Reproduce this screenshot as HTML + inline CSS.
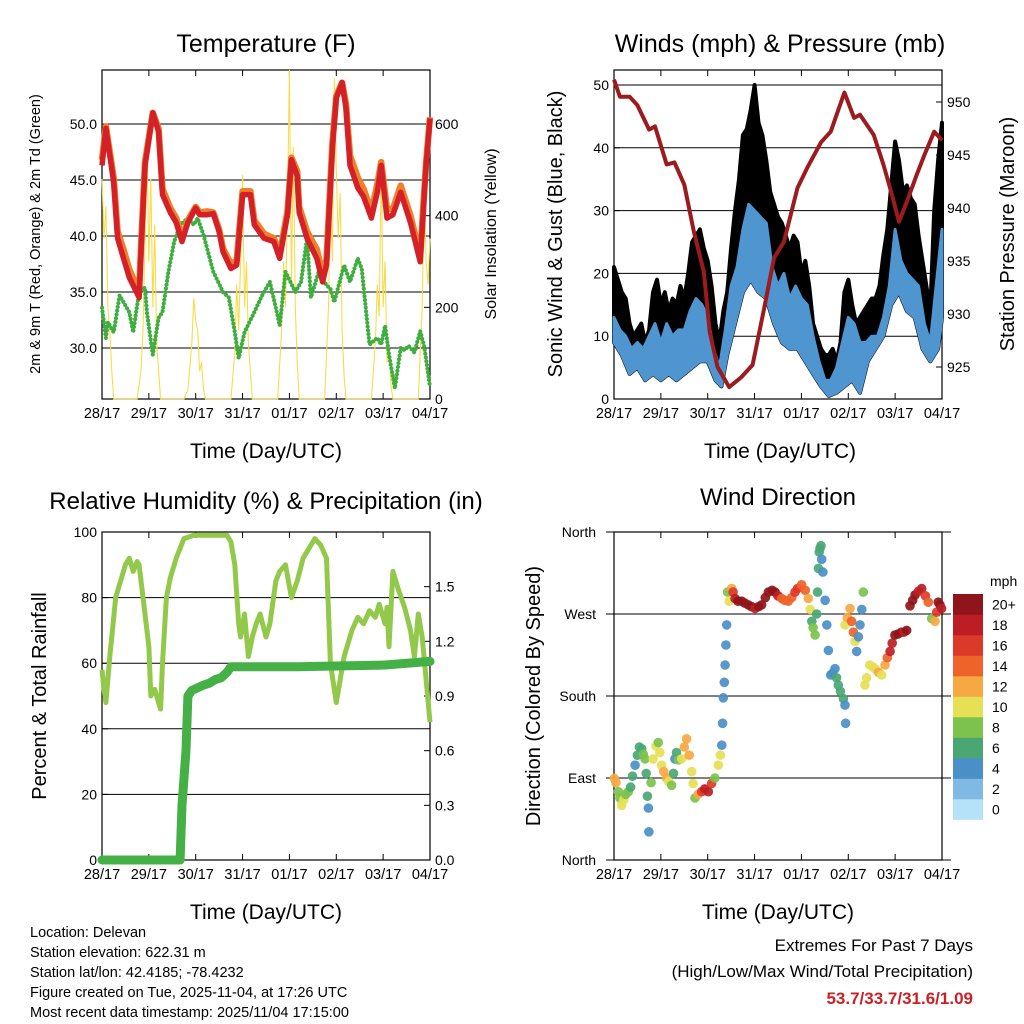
<!DOCTYPE html>
<html><head><meta charset="utf-8">
<style>
html,body{margin:0;padding:0;background:#fff;}
svg{display:block;font-family:"Liberation Sans",Arial,sans-serif;}
</style></head>
<body>
<svg id="fig" width="1024" height="1024" viewBox="0 0 1024 1024" xmlns="http://www.w3.org/2000/svg">
<rect width="1024" height="1024" fill="#fff"/>
<g id="layer"></g>
<text x="266" y="52" font-size="25" text-anchor="middle">Temperature (F)</text>
<text x="780" y="52" font-size="25" text-anchor="middle">Winds (mph) &amp; Pressure (mb)</text>
<text x="266" y="509" font-size="24" text-anchor="middle">Relative Humidity (%) &amp; Precipitation (in)</text>
<text x="778" y="505" font-size="24" text-anchor="middle">Wind Direction</text>
<text x="266" y="458" font-size="21" text-anchor="middle">Time (Day/UTC)</text>
<text x="780" y="458" font-size="21" text-anchor="middle">Time (Day/UTC)</text>
<text x="266" y="919" font-size="21" text-anchor="middle">Time (Day/UTC)</text>
<text x="778" y="919" font-size="21" text-anchor="middle">Time (Day/UTC)</text>
<text transform="translate(40,234) rotate(-90)" font-size="14.5" text-anchor="middle">2m &amp; 9m T (Red, Orange) &amp; 2m Td (Green)</text>
<text transform="translate(496,234) rotate(-90)" font-size="16" text-anchor="middle">Solar Insolation (Yellow)</text>
<text transform="translate(562,234) rotate(-90)" font-size="20" text-anchor="middle">Sonic Wind &amp; Gust (Blue, Black)</text>
<text transform="translate(1014,234) rotate(-90)" font-size="20" text-anchor="middle">Station Pressure (Maroon)</text>
<text transform="translate(46,696) rotate(-90)" font-size="20" text-anchor="middle">Percent &amp; Total Rainfall</text>
<text transform="translate(540,696) rotate(-90)" font-size="20" text-anchor="middle">Direction (Colored By Speed)</text>
<g font-size="14.5">
<text x="30" y="937">Location: Delevan</text>
<text x="30" y="957">Station elevation: 622.31 m</text>
<text x="30" y="977">Station lat/lon: 42.4185; -78.4232</text>
<text x="30" y="997">Figure created on Tue, 2025-11-04, at 17:26 UTC</text>
<text x="30" y="1017">Most recent data timestamp: 2025/11/04 17:15:00</text>
</g>
<g text-anchor="end" font-size="17">
<text x="973" y="951">Extremes For Past 7 Days</text>
<text x="973" y="977">(High/Low/Max Wind/Total Precipitation)</text>
<text x="973" y="1004" fill="#cc2027" font-weight="bold">53.7/33.7/31.6/1.09</text>
</g>
</svg>
<script>
// ---------- data ----------
const dayLabels = ["28/17","29/17","30/17","31/17","01/17","02/17","03/17","04/17"];
const tempT = [0,2,6,8,11,14,19,20,22,26,29,31,35,38,41,44,48,50,54,57,60,62,66,69,72,76,78,83,88,91,95,97,100,101,105,110,113,115,118,120,123,125,127,131,134,138,141,143,146,149,153,158,163,166,168];
const tempRed = [46.3,49.6,44.8,39.8,38.0,36.3,34.5,38.6,46.3,51.0,49.3,43.7,42.1,41.2,39.5,41.2,42.5,41.9,41.9,42.0,40.4,38.6,37.1,37.4,43.7,43.7,41.0,39.8,39.5,38.0,41.9,46.8,45.4,42.1,39.8,38.0,35.9,37.4,47.9,52.3,53.7,51.4,46.3,44.3,43.5,41.6,43.9,46.3,41.6,41.9,43.9,41.2,37.7,46.3,50.5];
const tempOrange = [46.8,49.8,45.2,40.4,38.8,37.0,35.0,39.0,46.6,51.0,49.6,44.2,42.5,41.6,39.9,41.4,42.6,42.1,42.2,42.1,40.6,38.9,37.5,37.8,44.0,44.0,41.4,40.2,39.8,38.4,42.2,47.0,45.8,42.6,40.4,38.8,36.6,37.9,48.3,52.5,53.7,51.8,47.2,45.2,44.2,42.2,44.6,46.6,42.4,42.4,44.5,41.8,38.2,46.6,50.6];
const tdT = [0,2,3,6,9,14,16,19,22,23,26,29,31,34,37,40,44,47,49,52,57,62,65,68,70,73,78,82,86,89,91,94,99,102,105,107,111,115,117,119,124,127,131,133,137,141,143,145,147,150,153,155,157,160,163,165,166,168];
const tdV = [33.6,30.9,32.3,31.4,34.7,33.2,31.4,35.0,35.4,33.2,29.4,32.7,33.2,36.8,39.5,41.0,41.6,41.0,41.6,40.1,36.8,35.0,34.5,31.4,29.1,31.4,33.2,34.7,35.9,33.6,32.0,36.8,35.0,35.9,39.8,34.5,36.8,35.6,35.3,34.1,37.4,35.9,38.0,37.1,30.3,30.9,30.3,32.0,29.4,26.4,30.0,29.8,30.2,29.6,31.5,30.2,29.0,26.5];
const solarT = [0,1,2,3,4,5,6,18,20,21,22,23,24,25,26,27,28,29,30,42,44,46,47,48,49,50,51,52,53,66,68,69,70,71,72,73,74,75,76,77,90,92,93,94,95,96,97,98,99,100,101,114,116,117,118,119,120,121,122,123,124,125,138,140,141,142,143,144,145,146,147,148,149,162,163,164,165,166,167,168];
const solarV = [480,350,420,200,150,60,0,0,60,150,350,554,300,480,200,380,120,60,0,0,20,120,220,170,150,60,80,20,0,0,100,250,150,300,489,200,300,120,60,0,0,150,300,200,420,718,250,550,200,80,0,0,200,450,300,700,500,350,450,150,50,0,0,120,250,180,510,200,300,80,120,30,0,0,100,200,460,300,250,350];
const presT = [0,3,8,12,18,21,27,31,36,41,46,49,53,59,65,71,77,82,87,94,99,106,111,118,123,126,133,138,142,146,150,155,159,164,168];
const presV = [952.1,950.5,950.5,949.7,947.4,947.7,944.1,944.3,942.2,937.7,934.0,928.3,925.0,923.1,924.0,925.2,930.6,935.3,936.8,941.9,943.8,946.2,947.2,950.9,948.5,948.8,946.9,944.1,941.5,938.7,940.6,943.1,945.0,947.2,946.4];
const gustT = [0,2,4,6,8,10,12,14,16,18,20,22,24,26,28,30,32,34,36,38,40,42,44,46,48,50,52,54,56,58,60,62,64,66,68,70,72,74,76,78,80,82,84,86,88,90,92,94,96,98,100,102,104,106,108,110,112,114,116,118,120,122,124,126,128,130,132,134,136,138,140,142,144,146,148,150,152,154,156,158,160,162,164,166,168];
const gustHi = [21,19,17,16,12,10,11,12,9,11,17,19,15,17,14,16,15,18,16,20,25,26,27,24,22,18,12,9,14,17,24,30,35,42,43,46,50,44,42,38,33,31,29,28,26,24,26,25,20,22,18,12,10,8,7,7,8,6,9,17,19,15,12,13,14,15,16,16,18,23,27,34,41,38,33,34,32,31,26,22,18,14,30,38,44];
const windT = [0,3,6,9,12,15,18,21,24,27,30,33,36,39,42,45,48,51,54,57,60,63,66,69,72,75,78,81,84,87,90,93,96,99,102,105,108,111,114,117,120,123,126,129,132,135,138,141,144,147,150,153,156,159,162,165,168];
const windHi = [13,11,10,8,9,8,10,12,9,12,10,11,11,14,16,15,13,8,5,11,18,21,27,31,30,29,28,21,18,20,16,18,16,15,10,6,3,3,5,9,13,12,9,9,10,10,13,18,27,22,20,19,18,12,9,18,27];
const windLoT = [0,4,8,12,16,20,24,28,32,36,40,44,48,52,55,58,62,66,70,74,78,82,86,90,94,98,102,106,110,114,118,122,126,130,134,138,142,146,150,154,158,162,166,168];
const windLo = [9,7,4,5,3,4,3,4,3,4,5,6,6,3,2,7,12,17,19,17,16,12,9,8,8,6,4,2,0.5,1,2,3,1,6,8,10,15,17,14,13,8,6,8,13];
const rhT = [0,1,2,4,7,10,12,14,16,18,19,21,24,25,27,30,31,33,35,38,42,47,55,64,66,68,70,71,73,75,77,79,81,84,86,89,91,94,97,100,103,106,109,112,115,117,120,122,124,126,128,131,134,137,140,142,145,146,147,149,152,155,158,160,162,164,166,168];
const rhV = [58,52,48,62,80,86,90,92,88,91,90,80,65,50,52,46,60,80,86,92,98,99,99,99,97,90,72,68,75,62,68,72,75,68,72,85,88,90,80,85,92,95,98,96,92,60,48,55,62,66,70,74,72,76,74,78,72,77,65,88,82,77,70,62,75,68,55,42];
const precipT = [0,40,41,43,44,46,48,52,55,58,61,64,66,100,145,168];
const precipV = [0,0,0.3,0.6,0.9,0.93,0.94,0.96,0.97,0.99,1.0,1.03,1.06,1.06,1.07,1.09];
const dirT = [0.2,1,2.2,3,3.9,5,6,7.3,8.5,9.5,10.8,12,13,14.2,15,15.9,16.5,17.1,17.6,17.9,19,20.1,21.5,22.7,23.5,24.4,25.5,27,28,29.5,30.5,31.2,32,33,34.7,36,37.2,38.5,39.8,40.5,41.5,43,44.9,46.5,48.3,50,51.7,53.4,54.5,55.2,55.6,56,56.5,56.9,57.3,57.7,58.2,59,60.3,61,62,63.5,65.4,67,68.8,70.5,72.2,74,75.6,77.5,79.1,81,82.5,84,85.9,87.5,89.3,91,92.7,94,96.1,98,99.5,100.5,101.3,102,103,103.8,104.3,104.7,105.1,105.5,106,106.4,107,108.1,109,109.8,111,112,113.2,114,114.9,116,117.5,118.3,118.6,118.3,119.5,120.9,121.7,122.6,123.5,124.3,125.2,126,126.9,127.7,128.5,129.4,131,132.5,133.7,135.5,137.1,138.8,140,141.4,142.5,143.9,145.5,147.3,148.5,149.9,151.6,153,154.2,156,157.6,159.5,161,162.7,164.4,165.3,166.1,167,167.8];
const dirV = [89.6,85,75,68,60,66,72,75,80,92,104,115,124,122,116,111,95,70,57,31,85,111,125,129,118,104,97,90,86,82,95,111,118,110,111,124,133,115,97,84,68,72,75,78,75,84,90,104,115,126,150,178,195,214,236,258,294,284,298,294,287,284,284,282,280,278,276,278,280,288,294,296,294,290,287,285,284,288,294,298,302,296,287,275,262,255,247,270,294,320,338,342,345,330,316,285,258,230,203,205,210,200,192,185,177,170,150,258,266,276,262,250,240,229,245,258,275,294,192,200,214,212,210,206,203,214,222,229,238,247,248,250,250,252,279,285,291,295,298,290,283,265,262,272,283,280,276];
const dirSpeed = [11,12,8,7,10,9,8,7,6,5,4,5,6,6,7,7,6,5,4,3,8,9,9,8,9,10,11,12,10,8,6,4,6,8,10,11,12,11,10,9,7,12,16,17,17,16,8,10,9,4,4,4,4,4,4,4,8,10,12,15,18,20,20,20,20,19,18,19,20,20,20,20,20,18,14,13,13,14,16,15,14,13,12,10,6,7,7,6,6,6,6,6,5,3,3,3,3,4,4,4,4,5,6,6,6,4,3,10,12,12,13,14,9,4,3,3,3,7,9,10,10,10,10,11,10,12,14,17,18,19,20,20,18,19,20,20,20,18,17,15,13,7,12,16,20,19,18];
const cbLabels = ["0","2","4","6","8","10","12","14","16","18","20+"];
const cbColors = ["#b5e2f8","#7fb9e4","#4a8fc7","#4aa774","#7cc24d","#e6e055","#f6a843","#ee6329","#dc3a28","#bd1e25","#8f151a"];

// ---------- helpers ----------
const NS="http://www.w3.org/2000/svg";
const layer=document.getElementById('layer');
function mk(tag,attrs,parent){const e=document.createElementNS(NS,tag);for(const k in attrs)e.setAttribute(k,attrs[k]);(parent||layer).appendChild(e);return e;}
function linScale(d0,d1,r0,r1){return v=>r0+(v-d0)*(r1-r0)/(d1-d0);}
function pathOf(ts,vs,sx,sy){return ts.map((t,i)=>(i?'L':'M')+sx(t).toFixed(1)+','+sy(vs[i]).toFixed(1)).join('');}
function txt(x,y,s,size,anchor,parent){const e=mk('text',{x:x,y:y,'font-size':size,'text-anchor':anchor},parent);e.textContent=s;return e;}

function frame(x0,x1,y0,y1,name){
  const g=mk('g',{});
  
  
  mk('rect',{x:x0,y:y0,width:x1-x0,height:y1-y0,fill:'none',stroke:'#000','stroke-width':1.2},g);
  const sx=linScale(0,168,x0,x1);
  dayLabels.forEach((d,i)=>{
    const x=sx(i*24);
    mk('line',{x1:x,x2:x,y1:y1,y2:y1-6,stroke:'#000'},g);
    mk('line',{x1:x,x2:x,y1:y0,y2:y0+6,stroke:'#000'},g);
    const t=txt(x,y1+19,d,14.5,'middle',g);
    
    
  });
  return g;
}
function yticks(g,vals,labels,sy,x,side,grid,gx0,gx1){
  vals.forEach((v,i)=>{
    const y=sy(v);
    if(grid) mk('line',{x1:gx0,x2:gx1,y1:y,y2:y,stroke:'#000','stroke-width':1},g);
    mk('line',{x1:x,x2:x+(side<0?6:-6),y1:y,y2:y,stroke:'#000'},g);
    const t=txt(side<0?x-5:x+5,y+5,labels[i],14,side<0?'end':'start',g);
    
    
  });
}

// ---------- Temperature panel ----------
(function(){
  const x0=102,x1=430,y0=70,y1=399;
  const g=frame(x0,x1,y0,y1,'temperature-panel');
  const sx=linScale(0,168,x0,x1);
  const sy=linScale(30,50,348,124);
  const sSol=linScale(0,600,399,124);
  const tv=[30,35,40,45,50];
  yticks(g,tv,tv.map(v=>v.toFixed(1)),sy,x0,-1,true,x0,x1);
  yticks(g,[0,200,400,600],['0','200','400','600'],sSol,x1,1,false);
  const sol=mk('path',{d:pathOf(solarT,solarV,sx,sSol),fill:'none',stroke:'#f9dc4a','stroke-width':1.1},g);
  
  
  const td=mk('path',{d:pathOf(tdT,tdV,sx,sy),fill:'none',stroke:'#3fae3f','stroke-width':4.2,'stroke-dasharray':'0 3.8','stroke-linecap':'round'},g);
  
  
  const o=mk('path',{d:pathOf(tempT,tempOrange,sx,sy),fill:'none',stroke:'#f07f2a','stroke-width':6.5,'stroke-linejoin':'round'},g);
  
  
  const r=mk('path',{d:pathOf(tempT,tempRed,sx,sy),fill:'none',stroke:'#d42027','stroke-width':5.5,'stroke-linejoin':'round'},g);
  
  
})();

// ---------- Wind panel ----------
(function(){
  const x0=614,x1=942,y0=70,y1=399;
  const g=frame(x0,x1,y0,y1,'winds-panel');
  const sx=linScale(0,168,x0,x1);
  const sy=linScale(0,50,399,85);
  const sp=linScale(925,950,367,102);
  const wv=[0,10,20,30,40,50];
  yticks(g,wv,wv.map(String),sy,x0,-1,true,x0,x1);
  const pv=[925,930,935,940,945,950];
  yticks(g,pv,pv.map(String),sp,x1,1,false);
  let d=pathOf(gustT,gustHi,sx,sy);
  for(let i=windLoT.length-1;i>=0;i--) d+='L'+sx(windLoT[i]).toFixed(1)+','+sy(windLo[i]).toFixed(1);
  const gb=mk('path',{d:d+'Z',fill:'#000',stroke:'#000','stroke-width':4,'stroke-linejoin':'round'},g);
  
  
  let d2=pathOf(windT,windHi,sx,sy);
  for(let i=windLoT.length-1;i>=0;i--) d2+='L'+sx(windLoT[i]).toFixed(1)+','+sy(windLo[i]).toFixed(1);
  const wb=mk('path',{d:d2+'Z',fill:'#4f95d0',stroke:'#4f95d0','stroke-width':3,'stroke-linejoin':'round'},g);
  
  
  const p=mk('path',{d:pathOf(presT,presV,sx,sp),fill:'none',stroke:'#9b1b1e','stroke-width':4,'stroke-linejoin':'round'},g);
  
  
})();

// ---------- RH panel ----------
(function(){
  const x0=102,x1=430,y0=532,y1=860;
  const g=frame(x0,x1,y0,y1,'humidity-panel');
  const sx=linScale(0,168,x0,x1);
  const sy=linScale(0,100,860,532);
  const sr=linScale(0,1.8,860,532);
  const rv=[0,20,40,60,80,100];
  yticks(g,rv,rv.map(String),sy,x0,-1,true,x0,x1);
  const pv=[0,0.3,0.6,0.9,1.2,1.5];
  yticks(g,pv,pv.map(v=>v.toFixed(1)),sr,x1,1,false);
  const rh=mk('path',{d:pathOf(rhT,rhV,sx,sy),fill:'none',stroke:'#93c94a','stroke-width':5,'stroke-linejoin':'round'},g);
  
  
  const pr=mk('path',{d:pathOf(precipT,precipV,sx,sr),fill:'none',stroke:'#45b045','stroke-width':9,'stroke-linejoin':'round','stroke-linecap':'round'},g);
  
  
})();

// ---------- Wind direction panel ----------
(function(){
  const x0=614,x1=942,y0=532,y1=860;
  const g=frame(x0,x1,y0,y1,'wind-direction-panel');
  const sx=linScale(0,168,x0,x1);
  const sy=linScale(0,360,860,532);
  const dv=[0,90,180,270,360];
  const dl=['North','East','South','West','North'];
  dv.forEach((v,i)=>{
    const y=sy(v);
    mk('line',{x1:606,x2:951,y1:y,y2:y,stroke:'#000','stroke-width':1},g);
    const t=txt(596,y+5,dl[i],14,'end',g);
    
    
  });
  dirT.forEach((t,i)=>{
    const bin=Math.min(10,Math.max(0,Math.round(dirSpeed[i]/2)));
    const c=mk('circle',{cx:sx(t).toFixed(1),cy:sy(dirV[i]).toFixed(1),r:4.8,fill:cbColors[bin],'fill-opacity':0.92},g);
    
    
  });
  const cb=mk('g',{});
  
  
  const h=20.5, top=594;
  cbLabels.forEach((l,i)=>{
    const y=top+(10-i)*h;
    mk('rect',{x:953,y:y,width:30,height:h+0.3,fill:cbColors[i]},cb);
    const t=txt(992,y+h/2+5,l,14,'start',cb);
    
    
  });
  const u=txt(990,586,'mph',14,'start',cb);
  
  
})();
</script>
</body></html>
